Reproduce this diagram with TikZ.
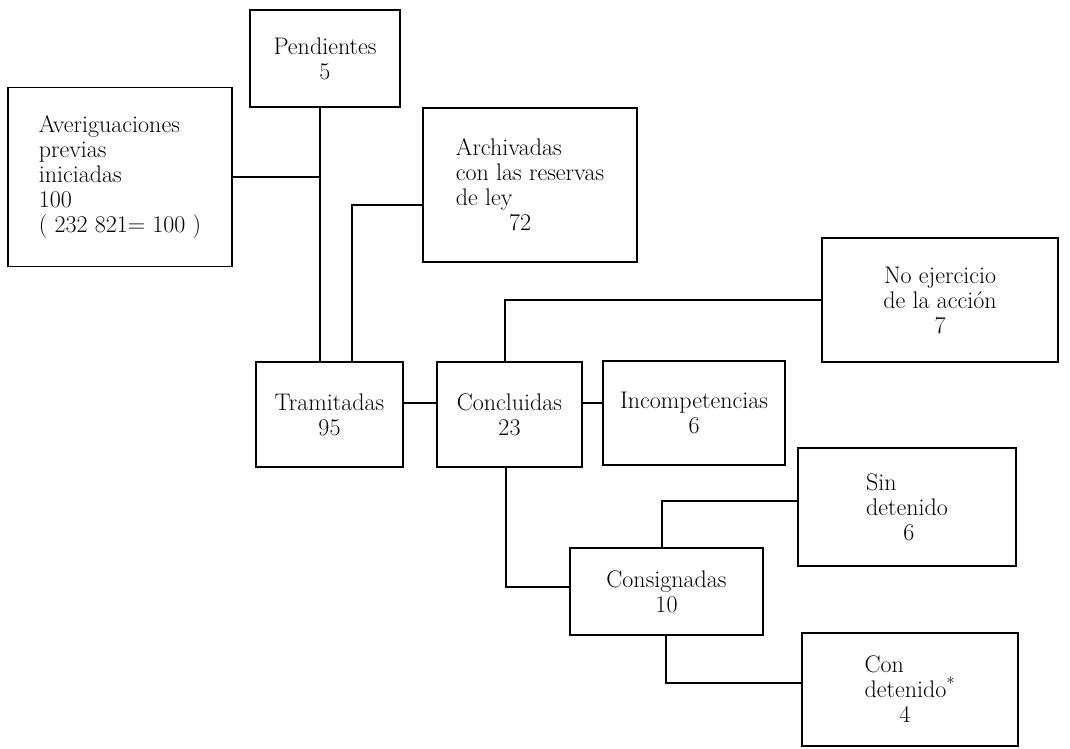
\documentclass[tikz,border=0pt]{standalone}
\begin{document}
\begin{tikzpicture}[x=0.75pt,y=-0.75pt,
  box/.style={draw,line width=1.2pt,inner sep=0pt,font=\fontsize{18}{18.75}\selectfont},
  lnk/.style={line width=1.2pt}]
\useasboundingbox (0,0) rectangle (1070,749);
\node[box,align=left,minimum width=168pt,minimum height=134.25pt] (avg) at (120,177)
  {Averiguaciones\\previas\\iniciadas\\100\\( 232 821= 100 )};
\node[box,align=center,minimum width=112.5pt,minimum height=72.75pt] (pend) at (325,58.5)
  {Pendientes\\5};
\node[box,align=left,minimum width=160.5pt,minimum height=115.5pt] (arch) at (530,185)
  {Archivadas\\con las reservas\\de ley\\\hspace*{40pt}72};
\node[box,align=center,minimum width=110.25pt,minimum height=78.75pt] (tram) at (329.5,414.5)
  {Tramitadas\\95};
\node[box,align=center,minimum width=108.75pt,minimum height=78.75pt] (conc) at (509.5,414.5)
  {Concluidas\\23};
\node[box,align=center,minimum width=136.5pt,minimum height=78pt] (inc) at (694,413)
  {Incompetencias\\6};
\node[box,align=center,minimum width=177pt,minimum height=93pt] (noej) at (940,300)
  {No ejercicio\\de la acción\\7};
\node[box,align=center,minimum width=144.75pt,minimum height=65.25pt] (cons) at (666.5,591.5)
  {Consignadas\\10};
\node[box,align=left,minimum width=163.5pt,minimum height=88.5pt] (sin) at (907,507)
  {Sin\\detenido\\\hspace*{28pt}6};
\node[box,align=left,minimum width=162pt,minimum height=84.75pt] (con) at (910,689.5)
  {Con\\detenido\textsuperscript{*}\\\hspace*{26pt}4};
\coordinate (j1) at (320,177);
\coordinate (j2) at (352,205);
\coordinate (j3) at (0,403);
\coordinate (j4) at (505,300);
\coordinate (j5) at (506,587);
\coordinate (j6) at (662,501);
\coordinate (j7) at (666,683);
\draw[lnk] (avg.east) -- (avg.east -| j1);
\draw[lnk] (pend.south -| j1) -- (tram.north -| j1);
\draw[lnk] (arch.west |- j2) -| (tram.north -| j2);
\draw[lnk] (tram.east |- j3) -- (conc.west |- j3);
\draw[lnk] (conc.east |- j3) -- (inc.west |- j3);
\draw[lnk] (conc.north -| j4) |- (noej.west);
\draw[lnk] (conc.south -| j5) |- (cons.west |- j5);
\draw[lnk] (cons.north -| j6) |- (sin.west |- j6);
\draw[lnk] (cons.south -| j7) |- (con.west |- j7);
\end{tikzpicture}
\end{document}
